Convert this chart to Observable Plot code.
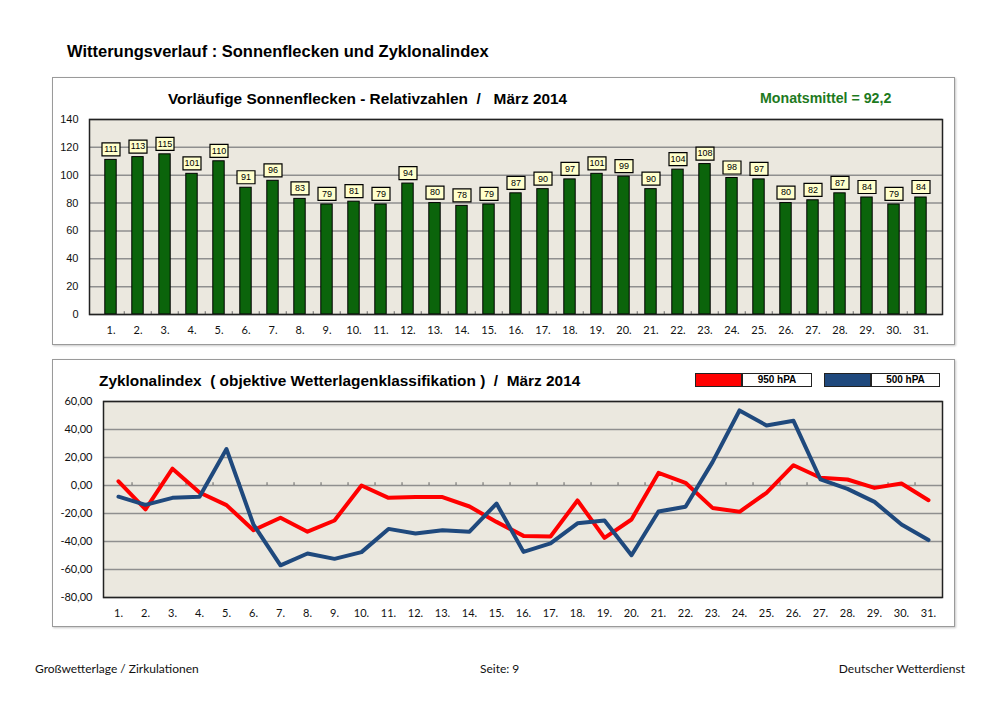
<!DOCTYPE html>
<html>
<head>
<meta charset="utf-8">
<script src="https://cdn.jsdelivr.net/npm/d3@7"></script>
<script src="https://cdn.jsdelivr.net/npm/@observablehq/plot@0.6"></script>
<style>
  html, body { margin: 0; padding: 0; background: #fff; }
  #page { position: relative; width: 1000px; height: 706px; overflow: hidden; font-family: "Liberation Sans", Arial, sans-serif; }
  .abs { position: absolute; white-space: pre; }
  .panel { position: absolute; border: 1px solid #9a9a9a; box-shadow: 1px 1px 2px #c8c8c8; background: #fff; }
  .title { font-weight: bold; color: #000; line-height: 1; }
  .footer { font-family: Lato, "Open Sans", sans-serif; font-size: 12px; line-height: 1; color: #111; }
  .legbox { position: absolute; border: 1px solid #222; box-sizing: border-box; }
  .legtxt { position: absolute; border: 1px solid #222; box-sizing: border-box; background: #fff;
            font-family: "Liberation Sans", Arial, sans-serif; font-weight: bold; font-size: 10px;
            text-align: center; line-height: 12px; }
  .chart { position: absolute; }
  .chart [aria-label^="y-axis"] text { font-family: "Liberation Sans", Arial, sans-serif; }
  .chart.zyk [aria-label^="y-axis"] text { font-family: Lato, "Open Sans", sans-serif; }
</style>
</head>
<body>
<div id="page">
  <div class="abs title" style="left:67px; top:43px; font-size:16.5px;">Witterungsverlauf : Sonnenflecken und Zyklonalindex</div>

  <div class="panel" style="left:52px; top:77px; width:901px; height:266px;"></div>
  <div class="abs title" style="left:168px; top:91px; font-size:15.4px;">Vorläufige Sonnenflecken - Relativzahlen  /   März 2014</div>
  <div class="abs title" style="left:760px; top:91px; font-size:14.2px; color:#1e7a1e;">Monatsmittel = 92,2</div>
  <div id="sun" class="chart" style="left:52px; top:110px;"></div>

  <div class="panel" style="left:52px; top:359px; width:901px; height:266px;"></div>
  <div class="abs title" style="left:99px; top:373px; font-size:15.4px;">Zyklonalindex  ( objektive Wetterlagenklassifikation )  /  März 2014</div>
  <div class="legbox" style="left:695px; top:373px; width:47px; height:14px; background:#ff0000;"></div>
  <div class="legtxt" style="left:742px; top:373px; width:70px; height:14px;">950 hPA</div>
  <div class="legbox" style="left:824px; top:373px; width:47px; height:14px; background:#1f497d;"></div>
  <div class="legtxt" style="left:871px; top:373px; width:69px; height:14px;">500 hPA</div>
  <div id="zyk" class="chart zyk" style="left:52px; top:392px;"></div>

  <div class="abs footer" style="left:35px; top:663px;">Großwetterlage / Zirkulationen</div>
  <div class="abs footer" style="left:480px; top:663px;">Seite: 9</div>
  <div class="abs footer" style="right:35px; top:663px;">Deutscher Wetterdienst</div>
</div>
<script>
// ---- data ----
const days = d3.range(1, 32);
const sunspots = [111,113,115,101,110,91,96,83,79,81,79,94,80,78,79,87,90,97,101,99,90,104,108,98,97,80,82,87,84,79,84];
const zyk950 = [3,-17,12,-5,-14,-32,-23,-33,-25,0,-8.8,-8.3,-8.3,-15,-26,-36,-36.4,-10.7,-37.4,-24.3,9,1.9,-16,-18.8,-5.2,14.5,5.5,4.3,-1.7,1.4,-10.5];
const zyk500 = [-8,-13.8,-8.8,-8,26,-28,-57,-48.6,-52.4,-47.6,-31,-34.3,-32,-33,-12.9,-47.4,-41.4,-27,-25,-49.8,-18.6,-15.2,16.7,53.6,42.9,46.2,4.3,-2.4,-11.7,-27.9,-39];
const sunTicks = [0,20,40,60,80,100,120,140];
const zykTicks = [-80,-60,-40,-20,0,20,40,60];
const seriesNames = ["950 hPA", "500 hPA"];

const bg = "#ebe8df";
const gridColor = "#8f8f8f";
const sunData = days.map((d, i) => ({day: d, v: sunspots[i]}));
const zykData = [
  ...days.map((d, i) => ({day: d, v: zyk950[i], s: seriesNames[0]})),
  ...days.map((d, i) => ({day: d, v: zyk500[i], s: seriesNames[1]}))
];
const boxSymbol = { draw(ctx) { ctx.rect(-9, -6.5, 18, 13); } };

// ---- top chart ----
{
  const W = 902, H = 232, mL = 37, mR = 12, mT = 9, mB = 28;
  const step = (W - mL - mR) / days.length;
  const chart = Plot.plot({
    width: W, height: H, marginLeft: mL, marginRight: mR, marginTop: mT, marginBottom: mB,
    style: {fontFamily: "Lato, 'Open Sans', sans-serif", fontSize: "11px", background: "transparent", color: "#111", overflow: "visible"},
    x: {type: "band", domain: days, padding: 0, tickFormat: d => d + ".", tickSize: 0, tickPadding: 12, label: null},
    y: {domain: [0, 140], ticks: sunTicks, tickSize: 0, tickPadding: 11, label: null},
    marks: [
      Plot.frame({fill: bg, stroke: null}),
      Plot.ruleY(sunTicks, {stroke: gridColor, strokeWidth: 1.5}),
      Plot.ruleX(days.slice(1), {x: d => d, y1: 0, y2: 2, dx: -step / 2, stroke: "#666"}),
      Plot.barY(sunData, {x: "day", y: "v", fill: "#0b640b", stroke: "#000", strokeWidth: 1, insetLeft: 7.8, insetRight: 7.8}),
      Plot.dot(sunData, {x: "day", y: "v", dy: -10.5, symbol: boxSymbol, fill: "#ffffcc", stroke: "#000", strokeWidth: 1.2}),
      Plot.text(sunData, {x: "day", y: "v", text: d => String(d.v), dy: -10.5, fontSize: 9, fontFamily: "'Liberation Sans', Arial, sans-serif", fill: "#000"}),
      Plot.frame({stroke: "#222", strokeWidth: 1.5})
    ]
  });
  document.getElementById("sun").append(chart);
}

// ---- bottom chart ----
{
  const W = 902, H = 234, mL = 51, mR = 12, mT = 9, mB = 29;
  const step = (W - mL - mR) / days.length;
  const fmt = v => v.toFixed(2).replace(".", ",");
  const chart = Plot.plot({
    width: W, height: H, marginLeft: mL, marginRight: mR, marginTop: mT, marginBottom: mB,
    style: {fontFamily: "Lato, 'Open Sans', sans-serif", fontSize: "11px", background: "transparent", color: "#111", overflow: "visible"},
    x: {type: "point", domain: days, padding: 0.5, tickFormat: d => d + ".", tickSize: 0, tickPadding: 12, label: null},
    y: {domain: [-80, 60], ticks: zykTicks, tickFormat: fmt, tickSize: 0, tickPadding: 11, label: null},
    color: {domain: seriesNames, range: ["#ff0000", "#1f497d"]},
    marks: [
      Plot.frame({fill: bg, stroke: null}),
      Plot.ruleY(zykTicks, {stroke: gridColor, strokeWidth: 1.5}),
      Plot.ruleX(days.slice(0, -1), {x: d => d, y1: 0, y2: 2, dx: step / 2, stroke: "#666"}),
      Plot.line(zykData, {x: "day", y: "v", z: "s", stroke: "s", strokeWidth: 4}),
      Plot.frame({stroke: "#222", strokeWidth: 1.5})
    ]
  });
  document.getElementById("zyk").append(chart);
}
</script>
</body>
</html>
